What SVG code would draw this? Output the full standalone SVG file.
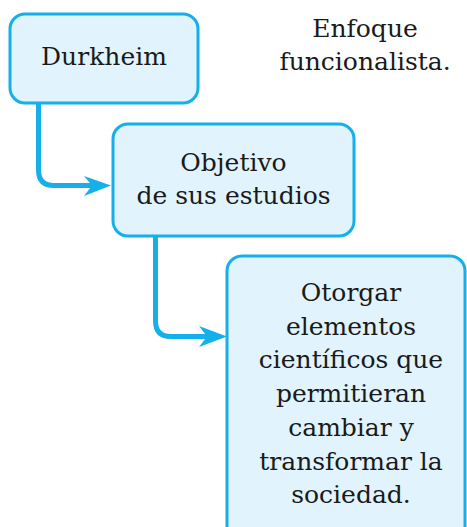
<svg xmlns="http://www.w3.org/2000/svg" width="467" height="527" viewBox="0 0 467 527">
<style>
.box{fill:#e1f3fd;stroke:#15b0ea;stroke-width:3}
.t{font-family:"DejaVu Serif","Liberation Serif",serif;font-size:25px;fill:#1a1a1a;text-anchor:middle}
.c{fill:none;stroke:#15b0ea;stroke-width:5}
.ah{fill:#15b0ea}
</style>
<rect width="467" height="527" fill="#ffffff"/>
<g id="connectors">
<path class="c" d="M38.5,103 V170 Q38.5,185.5 54,185.5 H100"/>
<path class="ah" d="M111,185.5 L84,176 L92,185.5 L84,196 Z"/>
<path class="c" d="M155.5,236 V321 Q155.5,336.5 171,336.5 H215"/>
<path class="ah" d="M227,336.5 L199,326 L207,336.5 L199,347 Z"/>
</g>
<g id="durkheim">
<rect class="box" x="10" y="14" width="188" height="89" rx="15"/>
<text class="t" x="104" y="65">Durkheim</text>
</g>
<g id="enfoque">
<text class="t" x="365" y="37">Enfoque</text>
<text class="t" x="365" y="70">funcionalista.</text>
</g>
<g id="objetivo">
<rect class="box" x="113" y="124" width="241" height="112" rx="15"/>
<text class="t" x="233.5" y="171">Objetivo</text>
<text class="t" x="233.5" y="204">de sus estudios</text>
</g>
<g id="otorgar">
<rect class="box" x="227" y="256" width="238" height="290" rx="15"/>
<text class="t" x="351" y="301">Otorgar</text>
<text class="t" x="351" y="334.7">elementos</text>
<text class="t" x="351" y="368.4">científicos que</text>
<text class="t" x="351" y="402.1">permitieran</text>
<text class="t" x="351" y="435.8">cambiar y</text>
<text class="t" x="351" y="469.5">transformar la</text>
<text class="t" x="351" y="503.2">sociedad.</text>
</g>
</svg>
